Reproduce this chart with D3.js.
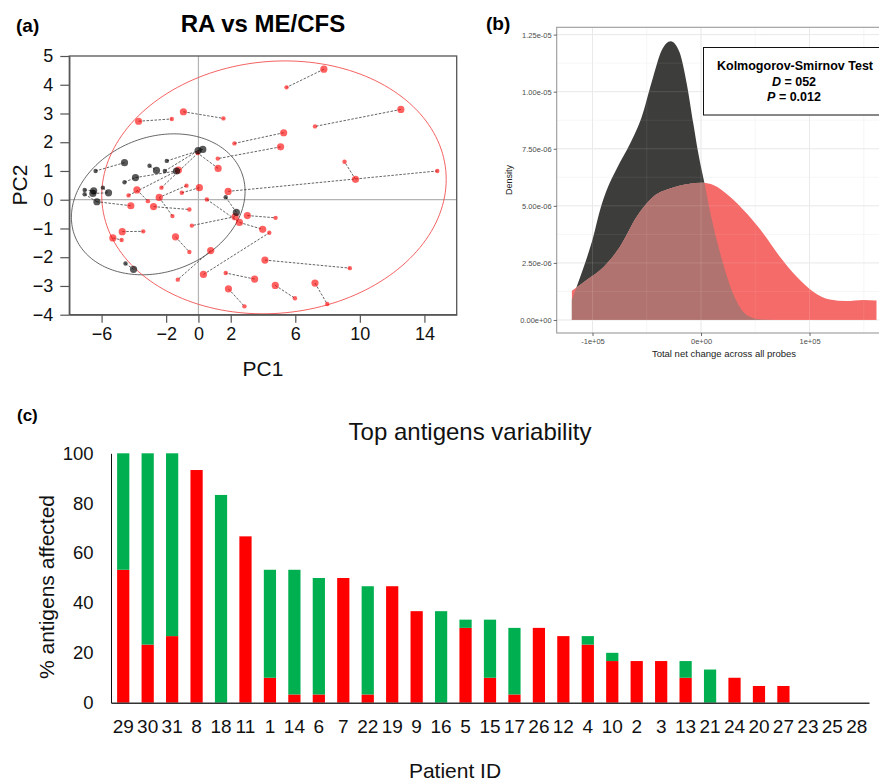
<!DOCTYPE html>
<html><head><meta charset="utf-8">
<script src="https://cdn.jsdelivr.net/npm/d3@7"></script>
<style>
body{margin:0;background:#fff}
svg{display:block}
text{font-family:"Liberation Sans",Arial,Helvetica,sans-serif}
</style>
</head><body>
<svg id="fig" width="879" height="780"></svg>
<script>
// ---------------- Panel (a) data: PCA scores ----------------
const pcaX = [7.77,5.46,12.54,7.22,-0.93,1.55,-3.71,-1.65,5.28,2.23,5.09,1.20,9.73,9.05,1.84,14.80,1.22,-0.04,3.03,4.78,
  2.54,3.98,0.31,4.39,2.27,-0.41,0.52,-1.42,-0.56,0.76,-1.28,3.48,1.69,1.86,2.85,4.12,9.38,4.76,5.98,7.22,7.98,
  -4.72,-3.42,-5.30,-4.76,-3.81,-4.33,-3.13,-2.43,-2.78,-2.29,-1.03,-0.74,0.06,-1.24,-1.61,-0.56,-4.19,
  -4.58,-6.37,-3.03,-2.60,-2.08,-1.36,-1.96,-3.90,-4.58,-0.02,0.27,-7.05,-7.05,-6.49,-6.54,-5.92,-5.57,-6.29,1.69,2.35,-4.52,-4.02];
const pcaY = [4.54,3.91,3.14,2.55,3.06,2.83,2.73,2.81,2.33,1.96,1.84,1.43,0.71,1.32,0.29,1.00,1.09,1.62,-0.55,-0.63,
  -0.79,-1.03,-2.60,-1.15,-0.59,-0.90,0.01,-1.29,-1.82,-1.77,-2.78,-2.76,-2.55,-3.10,-3.71,-2.10,-2.38,-2.98,-3.43,-2.90,-3.63,
  -1.11,-1.10,-1.33,-1.40,0.34,0.15,-0.05,0.08,-0.24,0.42,0.24,0.49,0.42,1.03,-0.57,-0.34,-0.21,
  1.29,1.00,1.18,1.02,1.00,1.00,1.35,0.77,0.61,1.71,1.75,0.34,0.19,0.31,0.22,0.42,0.24,-0.07,0.09,-0.44,-2.22,-2.42];
const pcaKind = [1,0,1,0,1,0,1,0,1,0,1,0,1,0,1,0,1,0,1,0,
  1,1,1,0,1,0,0,1,0,1,0,1,0,1,0,1,0,1,0,1,0,
  1,0,1,0,1,0,0,1,1,0,0,0,1,1,0,0,1,
  1,0,0,1,0,1,0,1,0,1,1,0,0,1,1,0,1,1,0,1,0,1];
const pcaGroup = pcaX.map((_, i) => i < 58 ? "ME/CFS" : "RA");
const linkFrom = [0,2,4,6,8,10,12,14,16,18,20,22,24,26,27,29,31,33,35,37,39,41,43,45,48,49,51,52,57,46,50,58,64,62,65,66,60,70,69,73,72,76,78];
const linkTo   = [1,3,5,7,9,11,13,15,17,19,21,23,25,20,28,30,32,34,36,38,40,42,44,47,55,56,53,48,75,54,17,59,68,67,63,65,61,75,71,74,74,77,79];
const ellipseGroup = ["RA","ME/CFS"];
const ellipseCx = [-2.49, 4.68];
const ellipseCy = [-0.16, 0.43];
const ellipseA = [5.38, 10.67];
const ellipseC = [0.45, 0.28];
const ellipseD = [2.41, 4.39];
const pcaXTicks = [-6,-2,0,2,6,10,14];
const pcaYTicks = [-4,-3,-2,-1,0,1,2,3,4,5];

// ---------------- Panel (b) data: densities ----------------
const raNetX = [-1.19,-1.146,-1.069,-0.993,-0.931,-0.869,-0.776,-0.653,-0.546,-0.454,-0.362,-0.279,-0.199,-0.132,-0.071,-0.025,0.04,0.09,0.15,0.22,0.30,0.42,0.54,0.67]; // x 1e5
const raDensity = [0.9,1.46,2.48,3.65,4.81,5.69,6.64,7.73,8.90,10.43,11.81,12.21,11.74,10.36,8.61,7.30,5.80,4.60,3.40,2.20,1.10,0.22,0.03,0]; // x 1e-6
const meNetX = [-1.19,-1.054,-0.900,-0.747,-0.593,-0.440,-0.286,-0.132,0.021,0.113,0.267,0.420,0.574,0.727,0.880,1.034,1.187,1.340,1.494,1.617];
const meDensity = [1.28,1.75,2.31,3.21,4.52,5.40,5.76,5.95,6.01,5.91,5.40,4.67,3.79,2.77,1.90,1.24,0.90,0.83,0.88,0.85];
const densityTicks = [0,2.5e-6,5e-6,7.5e-6,1e-5,1.25e-5];
const densityTickLabels = ["0.00e+00","2.50e-06","5.00e-06","7.50e-06","1.00e-05","1.25e-05"];
const netTicks = [-1e5,0,1e5];
const netTickLabels = ["-1e+05","0e+00","1e+05"];

// ---------------- Panel (c) data ----------------
const patients = ["29","30","31","8","18","11","1","14","6","7","22","19","9","16","5","15","17","26","12","4","10","2","3","13","21","24","20","27","23","25","28"];
const redPct =   [53.3,23.3,26.7,93.3,0,66.7,10,3.3,3.3,50,3.3,46.7,36.7,0,30,10,3.3,30,26.7,23.3,16.7,16.7,16.7,10,0,10,6.7,6.7,0,0,0];
const greenPct = [46.7,76.7,73.3,0,83.3,0,43.3,50,46.7,0,43.4,0,0,36.7,3.3,23.3,26.7,0,0,3.4,3.3,0,0,6.7,13.3,0,0,0,0,0,0];
const pctTicks = [0,20,40,60,80,100];

const svg = d3.select("#fig");
const FONT = '"Liberation Sans",Arial,sans-serif';

// ================= Panel (a) =================
const gA = svg.append("g");
const xA = d3.scaleLinear().domain([-8,16]).range([69.3,456.7]);
const yA = d3.scaleLinear().domain([-4,5]).range([314.7,56]);

gA.append("line").attr("x1",xA(-8)).attr("x2",xA(16)).attr("y1",yA(0)).attr("y2",yA(0)).attr("stroke","#b4b4b4").attr("stroke-width",1.2);
gA.append("line").attr("x1",xA(0)).attr("x2",xA(0)).attr("y1",yA(5)).attr("y2",yA(-4)).attr("stroke","#b4b4b4").attr("stroke-width",1.2);

// ellipses
const tSteps = d3.range(0, 2*Math.PI + 0.001, Math.PI/90);
ellipseGroup.forEach((g, i) => {
  const pts = tSteps.map(t => [xA(ellipseCx[i] + ellipseA[i]*Math.cos(t)), yA(ellipseCy[i] + ellipseC[i]*Math.cos(t) + ellipseD[i]*Math.sin(t))]);
  gA.append("path").attr("d", d3.line()(pts)).attr("fill","none")
    .attr("stroke", g === "RA" ? "#555" : "#f25050").attr("stroke-width", 0.9);
});

// links
gA.selectAll(".lnk").data(linkFrom.map((f,i)=>[f,linkTo[i]])).enter().append("line")
  .attr("x1",d=>xA(pcaX[d[0]])).attr("y1",d=>yA(pcaY[d[0]]))
  .attr("x2",d=>xA(pcaX[d[1]])).attr("y2",d=>yA(pcaY[d[1]]))
  .attr("stroke","#333").attr("stroke-width",0.9).attr("stroke-dasharray","2.5,1.5").attr("opacity",0.85);

// points
const rScale = d3.scaleOrdinal().domain([0,1]).range([2.2,3.6]);
const pts = pcaX.map((x,i)=>({x, y:pcaY[i], k:pcaKind[i], g:pcaGroup[i]}));
gA.selectAll(".pt").data(pts).enter().append("circle")
  .attr("cx",d=>xA(d.x)).attr("cy",d=>yA(d.y)).attr("r",d=>rScale(d.k))
  .attr("fill",d=>d.g==="RA" ? "rgba(0,0,0,0.65)" : "rgba(255,0,0,0.62)");

// box
gA.append("rect").attr("x",xA(-8)).attr("y",yA(5)).attr("width",xA(16)-xA(-8)).attr("height",yA(-4)-yA(5))
  .attr("fill","none").attr("stroke","#555").attr("stroke-width",1.3);

const axA_y = gA.append("g").attr("transform",`translate(${xA(-8)},0)`)
  .call(d3.axisLeft(yA).tickValues(pcaYTicks).tickSize(9).tickPadding(7).tickSizeOuter(0));
const axA_x = gA.append("g").attr("transform",`translate(0,${yA(-4)})`)
  .call(d3.axisBottom(xA).tickValues(pcaXTicks).tickSize(8).tickPadding(5).tickSizeOuter(0));
[axA_y, axA_x].forEach(a=>{
  a.select(".domain").attr("stroke","#555").attr("stroke-width",1.3);
  a.selectAll(".tick line").attr("stroke","#555").attr("stroke-width",1.2);
  a.selectAll(".tick text").attr("font-size",18).attr("font-family",FONT).attr("fill","#111");
});

gA.append("text").attr("x",16).attr("y",31.5).attr("font-size",19).attr("font-weight","bold").text("(a)");
gA.append("text").attr("x",263).attr("y",31.5).attr("text-anchor","middle").attr("font-size",24).attr("font-weight","bold").text("RA vs ME/CFS");
gA.append("text").attr("x",263).attr("y",376).attr("text-anchor","middle").attr("font-size",21).attr("fill","#111").text("PC1");
gA.append("text").attr("transform","translate(20,185) rotate(-90)").attr("dy","0.35em").attr("text-anchor","middle").attr("font-size",21).attr("fill","#111").text("PC2");

// ================= Panel (b) =================
const gB = svg.append("g");
const xB = d3.scaleLinear().domain([-1.33e5,1.76e5]).range([556.7,892]);
const yB = d3.scaleLinear().domain([-5.7e-7,1.282e-5]).range([333,27.3]);
const L = 556.7, R = 892, T = 27.3, Bt = 333;
const defs = svg.append("defs");
defs.append("clipPath").attr("id","clipB").append("rect").attr("x",L).attr("y",T).attr("width",R-L).attr("height",Bt-T);

gB.append("rect").attr("x",L).attr("y",T).attr("width",R-L).attr("height",Bt-T).attr("fill","#fff");
// grid
const minorX = [-1.5e5,-0.5e5,0.5e5,1.5e5];
const minorY = [1.25e-6,3.75e-6,6.25e-6,8.75e-6,1.125e-5];
const grid = gB.append("g").attr("clip-path","url(#clipB)");
function drawGrid(g, majorCol, minorCol, op){
  g.selectAll(null).data(minorX).enter().append("line").attr("x1",d=>xB(d)).attr("x2",d=>xB(d)).attr("y1",T).attr("y2",Bt).attr("stroke",minorCol).attr("stroke-width",0.6).attr("opacity",op);
  g.selectAll(null).data(minorY).enter().append("line").attr("y1",d=>yB(d)).attr("y2",d=>yB(d)).attr("x1",L).attr("x2",R).attr("stroke",minorCol).attr("stroke-width",0.6).attr("opacity",op);
  g.selectAll(null).data(netTicks).enter().append("line").attr("x1",d=>xB(d)).attr("x2",d=>xB(d)).attr("y1",T).attr("y2",Bt).attr("stroke",majorCol).attr("stroke-width",1).attr("opacity",op);
  g.selectAll(null).data(densityTicks).enter().append("line").attr("y1",d=>yB(d)).attr("y2",d=>yB(d)).attr("x1",L).attr("x2",R).attr("stroke",majorCol).attr("stroke-width",1).attr("opacity",op);
}
drawGrid(grid, "#e6e6e6", "#f0f0f0", 1);

const areaB = d3.area().curve(d3.curveMonotoneX).x(d=>xB(d[0]*1e5)).y0(yB(0)).y1(d=>yB(d[1]*1e-6));
const raPath = areaB(raNetX.map((x,i)=>[x, raDensity[i]]));
const mePath = areaB(meNetX.map((x,i)=>[x, meDensity[i]]));
defs.append("clipPath").attr("id","clipME").append("path").attr("d",mePath);
const maskNotME = defs.append("mask").attr("id","maskNotME").attr("maskUnits","userSpaceOnUse").attr("x",0).attr("y",0).attr("width",879).attr("height",780);
maskNotME.append("rect").attr("x",0).attr("y",0).attr("width",879).attr("height",780).attr("fill","#fff");
maskNotME.append("path").attr("d",mePath).attr("fill","#000");

const dens = gB.append("g").attr("clip-path","url(#clipB)");
dens.append("path").attr("d",mePath).attr("fill","#f46b69");
dens.append("path").attr("d",raPath).attr("fill","#3d3d3b").attr("mask","url(#maskNotME)");
dens.append("path").attr("d",raPath).attr("fill","#b1736f").attr("clip-path","url(#clipME)");
const grid2 = gB.append("g").attr("clip-path","url(#clipB)");
drawGrid(grid2, "#ffffff", "#ffffff", 0.12);

// border
gB.append("rect").attr("x",L).attr("y",T).attr("width",R-L).attr("height",Bt-T).attr("fill","none").attr("stroke","#9a9a9a").attr("stroke-width",1.1);

const axB_y = gB.append("g").attr("transform",`translate(${L},0)`)
  .call(d3.axisLeft(yB).tickValues(densityTicks).tickFormat((d,i)=>densityTickLabels[i]).tickSize(3).tickPadding(2).tickSizeOuter(0));
const axB_x = gB.append("g").attr("transform",`translate(0,${Bt})`)
  .call(d3.axisBottom(xB).tickValues(netTicks).tickFormat((d,i)=>netTickLabels[i]).tickSize(3).tickPadding(3).tickSizeOuter(0));
[axB_y, axB_x].forEach(a=>{
  a.select(".domain").remove();
  a.selectAll(".tick line").attr("stroke","#444").attr("stroke-width",0.8);
  a.selectAll(".tick text").attr("font-size",7.5).attr("font-family",FONT).attr("fill","#4d4d4d");
});
gB.append("text").attr("transform","translate(509,180) rotate(-90)").attr("dy","0.35em").attr("text-anchor","middle").attr("font-size",9).attr("fill","#222").text("Density");
gB.append("text").attr("x",724).attr("y",356.5).attr("text-anchor","middle").attr("font-size",9.5).attr("fill","#222").text("Total net change across all probes");
gB.append("text").attr("x",486).attr("y",30).attr("font-size",19).attr("font-weight","bold").text("(b)");

// KS box
gB.append("rect").attr("x",703.5).attr("y",47.5).attr("width",200).attr("height",67.5).attr("fill","#fff").attr("stroke","#111").attr("stroke-width",1);
gB.append("text").attr("x",795).attr("y",70).attr("text-anchor","middle").attr("font-size",12.5).attr("font-weight","bold").text("Kolmogorov-Smirnov Test");
const tD = gB.append("text").attr("x",794).attr("y",85.5).attr("text-anchor","middle").attr("font-size",12.5).attr("font-weight","bold");
tD.append("tspan").attr("font-style","italic").text("D");
tD.append("tspan").text(" = 052");
const tP = gB.append("text").attr("x",794).attr("y",101).attr("text-anchor","middle").attr("font-size",12.5).attr("font-weight","bold");
tP.append("tspan").attr("font-style","italic").text("P");
tP.append("tspan").text(" = 0.012");

// ================= Panel (c) =================
const gC = svg.append("g");
const xC = d3.scaleBand().domain(patients).range([111,869]).paddingInner(0.5).paddingOuter(0.25);
const yC = d3.scaleLinear().domain([0,100]).range([702.7,453.3]);
const tableC = patients.map((p,i)=>({patient:p, red:redPct[i], green:greenPct[i]}));
const stackC = d3.stack().keys(["red","green"])(tableC);
const colC = {red:"#ff0000", green:"#00b050"};
gC.selectAll(".series").data(stackC).enter().append("g").attr("fill",d=>colC[d.key])
  .selectAll("rect").data(d=>d).enter().append("rect")
  .attr("x",d=>xC(d.data.patient)).attr("width",xC.bandwidth())
  .attr("y",d=>yC(d[1])).attr("height",d=>yC(d[0])-yC(d[1]));

const axC_y = gC.append("g").attr("transform","translate(111,0)")
  .call(d3.axisLeft(yC).tickValues(pctTicks).tickSize(0).tickPadding(17.5).tickSizeOuter(0));
axC_y.select(".domain").attr("stroke","#111").attr("stroke-width",1);
axC_y.selectAll(".tick text").attr("font-size",18.5).attr("font-family",FONT).attr("fill","#111");
const axC_x = gC.append("g").attr("transform","translate(0,702.7)")
  .call(d3.axisBottom(xC).tickSize(0).tickPadding(16.8).tickSizeOuter(0));
axC_x.select(".domain").attr("stroke","#333").attr("stroke-width",1.5);
axC_x.selectAll(".tick text").attr("font-size",19).attr("font-family",FONT).attr("fill","#111");

gC.append("text").attr("x",17).attr("y",421).attr("font-size",17).attr("font-weight","bold").text("(c)");
gC.append("text").attr("x",470).attr("y",440).attr("text-anchor","middle").attr("font-size",24).attr("fill","#111").text("Top antigens variability");
gC.append("text").attr("x",455).attr("y",777.5).attr("text-anchor","middle").attr("font-size",21).attr("fill","#111").text("Patient ID");
gC.append("text").attr("transform","translate(47,587) rotate(-90)").attr("dy","0.35em").attr("text-anchor","middle").attr("font-size",21).attr("fill","#111").text("% antigens affected");
</script>
</body></html>
